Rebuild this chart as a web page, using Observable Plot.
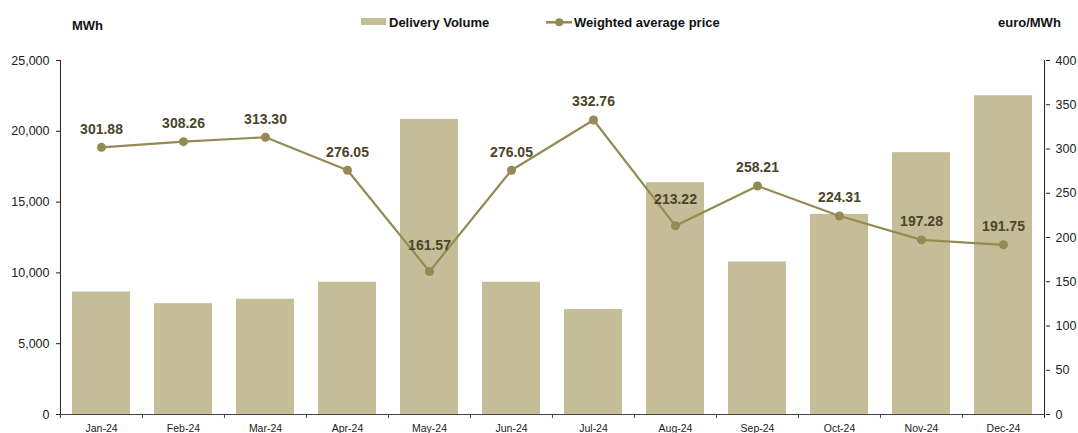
<!DOCTYPE html>
<html>
<head>
<meta charset="utf-8">
<script src="https://cdn.jsdelivr.net/npm/d3@7"></script>
<script src="https://cdn.jsdelivr.net/npm/@observablehq/plot@0.6"></script>
<style>
  html, body { margin: 0; padding: 0; background: #fff; }
  #wrap { position: relative; width: 1078px; height: 433px; font-family: "Liberation Sans", Arial, sans-serif; }
  #head { position: relative; width: 1078px; height: 40px; }
  .lbl { position: absolute; font-weight: bold; font-size: 13px; color: #111; line-height: 13px; white-space: nowrap; }
  #chart svg { display: block; }
</style>
</head>
<body>
<div id="wrap">
  <div id="head">
    <span class="lbl" style="left:72px; top:18.5px;">MWh</span>
    <svg style="position:absolute; left:360px; top:14px;" width="30" height="16"><rect x="1" y="4" width="25" height="7" fill="#C4BD97"></rect></svg>
    <span class="lbl" style="left:389px; top:15.5px;">Delivery Volume</span>
    <svg style="position:absolute; left:544px; top:14px;" width="32" height="16"><line x1="2" x2="28" y1="8.3" y2="8.3" stroke="#948A54" stroke-width="2.5"></line><circle cx="15.3" cy="8.3" r="4" fill="#948A54"></circle></svg>
    <span class="lbl" style="left:574px; top:15.5px;">Weighted average price</span>
    <span class="lbl" style="left:998px; top:15.5px;">euro/MWh</span>
  </div>
  <div id="chart"></div>
</div>
<script>
// ---- data ----
const months = ["Jan-24", "Feb-24", "Mar-24", "Apr-24", "May-24", "Jun-24", "Jul-24", "Aug-24", "Sep-24", "Oct-24", "Nov-24", "Dec-24"];
const deliveryVolume = [8650, 7830, 8140, 9340, 20840, 9340, 7410, 16370, 10770, 14130, 18490, 22510];
const weightedPrice = [301.88, 308.26, 313.30, 276.05, 161.57, 276.05, 332.76, 213.22, 258.21, 224.31, 197.28, 191.75];
const volumeTicks = [0, 5000, 10000, 15000, 20000, 25000];
const priceTicks = [0, 50, 100, 150, 200, 250, 300, 350, 400];
const raisedLabels = ["May-24", "Aug-24"];

// ---- layout ----
const W = 1078, H = 393, mL = 60, mR = 33, mT = 20, mB = 19;
const volMax = 25000, priceMax = 400;
const k = volMax / priceMax; // price -> volume-axis units
const step = (W - mL - mR) / months.length;

const rows = months.map((m, i) => ({month: m, volume: deliveryVolume[i], price: weightedPrice[i]}));

const axisColor = "#222";
const fontFamily = "'Liberation Sans', Arial, sans-serif";

const chart = Plot.plot({
  width: W, height: H,
  marginLeft: mL, marginRight: mR, marginTop: mT, marginBottom: mB,
  style: {fontFamily, background: "white", overflow: "visible"},
  x: {domain: months, paddingInner: 0.29, paddingOuter: 0.145, align: 0.5},
  y: {domain: [0, volMax]},
  marks: [
    Plot.barY(rows, {x: "month", y: "volume", fill: "#C4BD97"}),
    Plot.ruleY([0], {stroke: "#444", strokeWidth: 1}),
    Plot.ruleX([months[0]], {x: d => d, dx: -step / 2, stroke: axisColor, insetBottom: -4}),
    Plot.ruleX([months[months.length - 1]], {x: d => d, dx: step / 2, stroke: axisColor, insetBottom: -4}),
    Plot.axisY({ticks: volumeTicks, tickFormat: d3.format(","), tickSize: 4, tickPadding: 7, fontSize: 12.5, label: null, color: "#222"}),
    Plot.axisY({anchor: "right", ticks: priceTicks.map(d => d * k), tickFormat: d => String(Math.round(d / k)), tickSize: 4, tickPadding: 6, fontSize: 12.5, label: null, color: "#222"}),
    Plot.axisX({tickSize: 0, tickPadding: 10, fontSize: 10.5, label: null, color: "#222"}),
    Plot.axisX({tickSize: 4, text: null, dx: -step / 2, label: null, color: "#444"}),
    Plot.line(rows, {x: "month", y: d => d.price * k, stroke: "#948A54", strokeWidth: 2.2}),
    Plot.dot(rows, {x: "month", y: d => d.price * k, r: 4.5, fill: "#948A54"}),
    Plot.text(rows, {filter: d => !raisedLabels.includes(d.month), x: "month", y: d => d.price * k, text: d => d.price.toFixed(2), dy: -18, fontWeight: "bold", fontSize: 14, fill: "#4A452A"}),
    Plot.text(rows, {filter: d => raisedLabels.includes(d.month), x: "month", y: d => d.price * k, text: d => d.price.toFixed(2), dy: -26, fontWeight: "bold", fontSize: 14, fill: "#4A452A"})
  ]
});
document.getElementById("chart").appendChild(chart);
</script>
</body>
</html>
